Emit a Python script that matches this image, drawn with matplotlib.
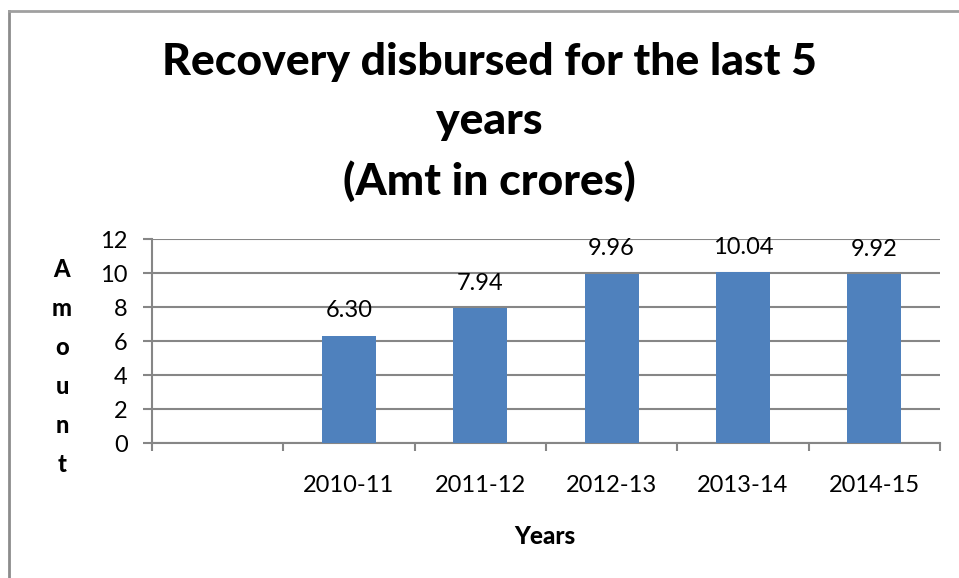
import matplotlib.pyplot as plt
from matplotlib.lines import Line2D

# chart data (first slot is an empty category in the original)
categories = ["", "2010-11", "2011-12", "2012-13", "2013-14", "2014-15"]
amounts = [None, 6.30, 7.94, 9.96, 10.04, 9.92]
labels = ["", "6.30", "7.94", "9.96", "10.04", "9.92"]
y_ticks = [0, 2, 4, 6, 8, 10, 12]

BAR_COLOR = "#4F81BD"
GRID_COLOR = "#868686"
FONT = ["Lato", "DejaVu Sans"]

plt.rcParams["font.family"] = FONT

W, H = 959, 578
fig = plt.figure(figsize=(W / 100, H / 100), dpi=100)

# plot area in pixels: left 152, right 940, top 239, bottom 443
ax = fig.add_axes([152 / W, 1 - 443 / H, (940 - 152) / W, (443 - 239) / H])

xs = list(range(len(categories)))
for x, v, lab in zip(xs, amounts, labels):
    if v is None:
        continue
    ax.bar(x, v, width=0.41, color=BAR_COLOR, zorder=3)
    ax.annotate(lab, (x, v), xytext=(0, 18), textcoords="offset points",
                ha="center", va="center", fontsize=17)

ax.set_xlim(-0.5, len(categories) - 0.5)
ax.set_ylim(0, 12)
ax.set_yticks(y_ticks)
ax.set_yticklabels([str(t) for t in y_ticks], fontsize=17)

# category boundary ticks, labels centred on slots
ax.set_xticks([i - 0.5 for i in range(len(categories) + 1)])
ax.set_xticklabels([])
ax.set_xticks(xs, minor=True)
ax.set_xticklabels(categories, minor=True, fontsize=17)
ax.tick_params(axis="x", which="major", length=5.5, width=1.5, color=GRID_COLOR)
ax.tick_params(axis="x", which="minor", length=0, pad=23)
ax.tick_params(axis="y", length=6.5, width=1.5, color=GRID_COLOR, pad=11)

ax.grid(axis="y", color=GRID_COLOR, linewidth=1.5, zorder=0)
for side in ["top", "right"]:
    ax.spines[side].set_visible(False)
for side in ["left", "bottom"]:
    ax.spines[side].set_color(GRID_COLOR)
    ax.spines[side].set_linewidth(1.5)

# title
fig.text(489 / W, 1 - 122 / H,
         "Recovery disbursed for the last 5\nyears\n(Amt in crores)",
         ha="center", va="center", fontsize=32, fontweight="black",
         linespacing=1.57)

# axis titles
fig.text(62 / W, 1 - 367 / H, "\n".join("Amount"), ha="center", va="center",
         fontsize=17, fontweight="black", linespacing=1.85)
fig.text(545 / W, 1 - 537 / H, "Years", ha="center", va="center",
         fontsize=17.5, fontweight="black")

# outer chart frame (left and top edges only are visible)
fig.add_artist(Line2D([9 / W, 9 / W], [0, 1 - 11 / H], color="#8C8C8C",
                      linewidth=2, transform=fig.transFigure))
fig.add_artist(Line2D([9 / W, 1], [1 - 11 / H, 1 - 11 / H], color="#A0A0A0",
                      linewidth=2, transform=fig.transFigure))

fig.savefig("out.png", dpi=100)
